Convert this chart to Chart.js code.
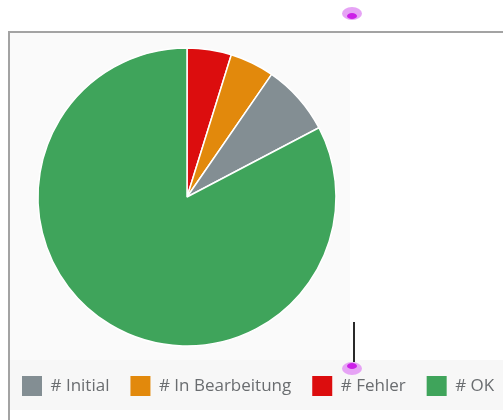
<!DOCTYPE html>
<html>
<head>
<meta charset="utf-8">
<script src="https://cdn.jsdelivr.net/npm/chart.js@4/dist/chart.umd.min.js"></script>
<style>
  html, body { margin: 0; padding: 0; background: #ffffff; }
  body { width: 503px; height: 420px; position: relative; overflow: hidden; }
  #panel { position: absolute; left: 10px; top: 33px; width: 340px; height: 327px; background: #fafafa; }
  #strip { position: absolute; left: 10px; top: 360px; width: 493px; height: 50px; background: #f7f7f7; }
  #topLine { position: absolute; left: 8px; top: 31px; width: 495px; height: 2px; background: #a3a3a3; }
  #leftLine { position: absolute; left: 8px; top: 31px; width: 2px; height: 389px; background: #a3a3a3; }
  #chartWrap { position: absolute; left: 0; top: 0; width: 540px; height: 420px; }
  .handle { position: absolute; width: 20px; height: 13px; border-radius: 50%; background: #e6a3f5; }
  .handle .core { position: absolute; left: 5px; width: 10px; height: 6px; border-radius: 50%; background: #cc1fe8; }
  #h1 { left: 342px; top: 7px; }
  #h1 .core { top: 6px; }
  #h2 { left: 342px; top: 362px; }
  #h2 .core { top: 1px; }
  #vline { position: absolute; left: 353px; top: 322px; width: 2px; height: 40px; background: #2a2a2a; }
</style>
</head>
<body>
<div id="panel"></div>
<div id="strip"></div>
<div id="topLine"></div>
<div id="leftLine"></div>
<div id="chartWrap"><canvas id="c" width="540" height="420"></canvas></div>
<div id="vline"></div>
<div class="handle" id="h1"><div class="core"></div></div>
<div class="handle" id="h2"><div class="core"></div></div>
<script>
// ---- data ----
const categories = ['# Fehler', '# In Bearbeitung', '# Initial', '# OK'];
const counts = [5, 5, 8, 86];
const legendOrder = ['# Initial', '# In Bearbeitung', '# Fehler', '# OK'];

// ---- styles ----
const sliceColors = ['#dc0d0e', '#e2890c', '#838e93', '#3fa45b'];
const PIE_CENTER_X = 187;
const PIE_RADIUS = 149;
const BORDER_W = 1.5;

const pieAreaPlugin = {
  id: 'pieArea',
  afterLayout(chart) {
    const a = chart.chartArea;
    const w = 2 * PIE_RADIUS + BORDER_W;
    a.left = PIE_CENTER_X - w / 2;
    a.right = PIE_CENTER_X + w / 2;
    a.width = w;
  }
};

new Chart(document.getElementById('c'), {
  type: 'pie',
  data: {
    labels: categories,
    datasets: [{
      data: counts,
      backgroundColor: sliceColors,
      borderColor: '#ffffff',
      borderWidth: BORDER_W
    }]
  },
  options: {
    responsive: false,
    animation: false,
    devicePixelRatio: 1,
    layout: { padding: { top: 39, bottom: 14, left: 1, right: 0 } },
    plugins: {
      tooltip: { enabled: false },
      legend: {
        position: 'bottom',
        align: 'start',
        labels: {
          boxWidth: 20,
          boxHeight: 20,
          padding: 21,
          color: '#6a6d70',
          font: { family: '"Open Sans", sans-serif', size: 17 },
          sort: (a, b) => legendOrder.indexOf(a.text) - legendOrder.indexOf(b.text),
          generateLabels: (chart) => {
            const items = Chart.overrides.pie.plugins.legend.labels.generateLabels(chart);
            items.forEach(it => { it.strokeStyle = it.fillStyle; it.lineWidth = 0; });
            return items;
          }
        }
      }
    }
  },
  plugins: [pieAreaPlugin]
});
</script>
</body>
</html>
